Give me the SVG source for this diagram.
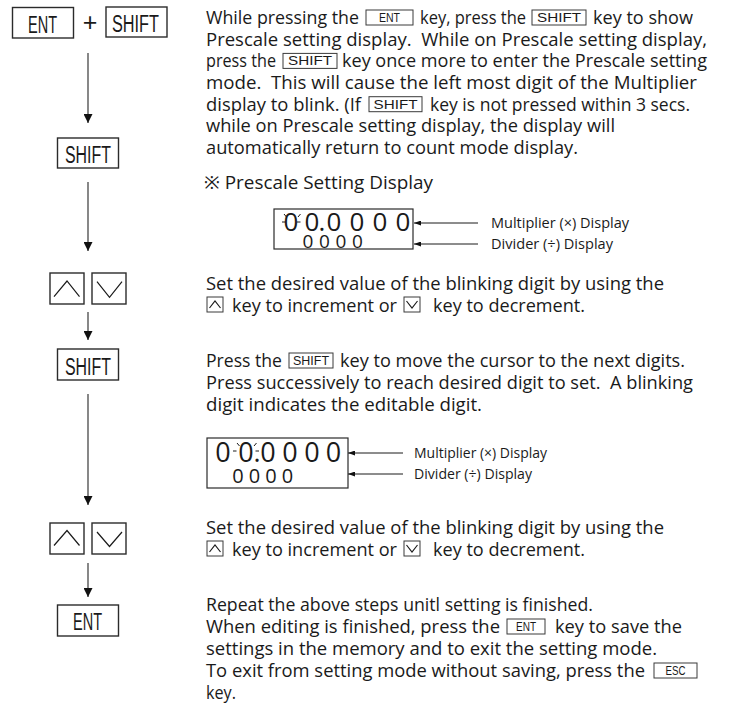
<svg xmlns="http://www.w3.org/2000/svg" width="746" height="724" viewBox="0 0 746 724">
<defs>
<style>
.t{font-family:"Open Sans","Noto Sans","Noto Sans CJK JP",sans-serif;font-size:18.5px;fill:#1a1a1a}
.lab{font-family:"Open Sans","Noto Sans",sans-serif;font-size:14px;fill:#1a1a1a}
.kb{fill:#fff;stroke:#2b2b2b;stroke-width:1.4}
.kt{font-family:"Liberation Sans",Arial,sans-serif;font-size:23.5px;fill:#1a1a1a}
.ib{fill:#fff;stroke:#3a3a3a;stroke-width:1}
.it{font-family:"Liberation Sans",Arial,sans-serif;font-size:12px;fill:#1a1a1a;text-anchor:middle}
.chev{fill:none;stroke:#1a1a1a;stroke-width:1.2}
.flow{stroke:#555;stroke-width:1.4;fill:none}
.dig{font-family:"Open Sans","Noto Sans",sans-serif;fill:#1a1a1a;text-anchor:middle}
.blink{stroke:#1a1a1a;stroke-width:1;fill:none}
.ptr{stroke:#1a1a1a;stroke-width:1;fill:none}
.disp{fill:#fff;stroke:#2b2b2b;stroke-width:1.2}
</style>
<marker id="ah" markerWidth="9" markerHeight="9" refX="9" refY="4.5" orient="auto" markerUnits="userSpaceOnUse"><path d="M0,0 L9,4.5 L0,9 Z" fill="#111"/></marker>
<marker id="ap" markerWidth="7" markerHeight="5" refX="7" refY="2.5" orient="auto" markerUnits="userSpaceOnUse"><path d="M0,0 L7,2.5 L0,5 Z" fill="#111"/></marker>
</defs>
<rect width="746" height="724" fill="#fff"/>

<!-- connectors -->
<g id="connectors">
<line class="flow" x1="88" y1="53" x2="88" y2="123" marker-end="url(#ah)"/>
<line class="flow" x1="88" y1="182" x2="88" y2="251" marker-end="url(#ah)"/>
<line class="flow" x1="88" y1="312" x2="88" y2="340" marker-end="url(#ah)"/>
<line class="flow" x1="88" y1="394" x2="88" y2="505" marker-end="url(#ah)"/>
<line class="flow" x1="88" y1="563" x2="88" y2="597" marker-end="url(#ah)"/>
<line class="ptr" x1="478" y1="223" x2="414" y2="223" marker-end="url(#ap)"/>
<line class="ptr" x1="478" y1="244" x2="414" y2="244" marker-end="url(#ap)"/>
<line class="ptr" x1="403" y1="453" x2="348" y2="453" marker-end="url(#ap)"/>
<line class="ptr" x1="403" y1="474" x2="348" y2="474" marker-end="url(#ap)"/>
</g>

<!-- left column keys -->
<g id="key-ent-1">
<rect class="kb" x="12.5" y="7.5" width="61" height="30.5"/>
<text class="kt" x="28" y="32.5" textLength="29" lengthAdjust="spacingAndGlyphs">ENT</text>
</g>
<text id="plus" x="90" y="31" font-family="Liberation Sans, Arial, sans-serif" font-size="25" fill="#1a1a1a" text-anchor="middle">+</text>
<g id="key-shift-1">
<rect class="kb" x="106" y="7" width="61" height="30"/>
<text class="kt" x="112" y="31.5" textLength="47" lengthAdjust="spacingAndGlyphs">SHIFT</text>
</g>
<g id="key-shift-2">
<rect class="kb" x="57.5" y="138" width="61" height="30"/>
<text class="kt" x="65" y="162.5" textLength="46" lengthAdjust="spacingAndGlyphs">SHIFT</text>
</g>
<g id="key-updown-1">
<rect class="kb" x="50" y="273" width="34" height="31"/>
<path class="chev" d="M54,296.7 L67,281 L79.5,296.7"/>
<rect class="kb" x="92" y="273" width="34" height="31"/>
<path class="chev" d="M97,281.7 L109.5,297.3 L122,281.7"/>
</g>
<g id="key-shift-3">
<rect class="kb" x="57.5" y="349" width="61" height="31"/>
<text class="kt" x="65" y="374.5" textLength="46" lengthAdjust="spacingAndGlyphs">SHIFT</text>
</g>
<g id="key-updown-2">
<rect class="kb" x="50" y="523" width="34" height="31"/>
<path class="chev" d="M54,545.5 L67,530.5 L79.5,545.5"/>
<rect class="kb" x="92" y="523" width="34" height="31"/>
<path class="chev" d="M97,532 L109.5,546.5 L122,532"/>
</g>
<g id="key-ent-2">
<rect class="kb" x="57.5" y="605" width="61" height="31"/>
<text class="kt" x="73" y="630" textLength="29" lengthAdjust="spacingAndGlyphs">ENT</text>
</g>

<!-- block 1 -->
<g id="step1-text">
<text class="t" x="206" y="24" textLength="153" lengthAdjust="spacingAndGlyphs">While pressing the</text>
<rect class="ib" x="366" y="10" width="47" height="15"/>
<text class="it" x="389.5" y="22" textLength="21" lengthAdjust="spacingAndGlyphs">ENT</text>
<text class="t" x="420" y="24" textLength="106" lengthAdjust="spacingAndGlyphs">key, press the</text>
<rect class="ib" x="532" y="10" width="54" height="15"/>
<text class="it" x="559" y="22" textLength="44" lengthAdjust="spacingAndGlyphs">SHIFT</text>
<text class="t" x="593" y="24" textLength="100" lengthAdjust="spacingAndGlyphs">key to show</text>
<text class="t" x="206" y="45.7" textLength="501" lengthAdjust="spacingAndGlyphs" xml:space="preserve">Prescale setting display.  While on Prescale setting display,</text>
<text class="t" x="206" y="67.4" textLength="70" lengthAdjust="spacingAndGlyphs">press the</text>
<rect class="ib" x="283" y="53.4" width="54" height="15"/>
<text class="it" x="310" y="65.4" textLength="44" lengthAdjust="spacingAndGlyphs">SHIFT</text>
<text class="t" x="342" y="67.4" textLength="365" lengthAdjust="spacingAndGlyphs">key once more to enter the Prescale setting</text>
<text class="t" x="206" y="89" textLength="491" lengthAdjust="spacingAndGlyphs" xml:space="preserve">mode.  This will cause the left most digit of the Multiplier</text>
<text class="t" x="206" y="110.7" textLength="155" lengthAdjust="spacingAndGlyphs">display to blink. (If</text>
<rect class="ib" x="369" y="96.7" width="53" height="15"/>
<text class="it" x="395.5" y="108.7" textLength="44" lengthAdjust="spacingAndGlyphs">SHIFT</text>
<text class="t" x="430" y="110.7" textLength="260" lengthAdjust="spacingAndGlyphs">key is not pressed within 3 secs.</text>
<text class="t" x="206" y="132.4" textLength="409" lengthAdjust="spacingAndGlyphs">while on Prescale setting display, the display will</text>
<text class="t" x="206" y="154" textLength="372" lengthAdjust="spacingAndGlyphs">automatically return to count mode display.</text>
<text class="t" x="204" y="189" textLength="229" lengthAdjust="spacingAndGlyphs">※ Prescale Setting Display</text>
</g>

<g id="display-1">
<rect class="disp" x="274" y="209" width="139" height="40"/>
<text class="dig" font-size="26" x="291 312 322 334 357 380 403" y="231">00.0000</text>
<text class="dig" font-size="19" x="308 324.5 341 357.5" y="248">0000</text>
<path class="blink" d="M284,214 L286.5,217 M282,222 L285.5,222 M297,222 L300.5,222 M298,217 L300.5,214"/>
</g>
<g id="labels-1">
<text class="lab" x="491" y="228" textLength="138" lengthAdjust="spacingAndGlyphs">Multiplier (×) Display</text>
<text class="lab" x="491" y="249" textLength="122" lengthAdjust="spacingAndGlyphs">Divider (÷) Display</text>
</g>

<g id="step2-text">
<text class="t" x="206" y="290" textLength="458" lengthAdjust="spacingAndGlyphs">Set the desired value of the blinking digit by using the</text>
<rect class="ib" x="207" y="297" width="16" height="15"/>
<path class="chev" d="M209.5,308 L215,301 L220.5,308" stroke-width="1"/>
<text class="t" x="232" y="312" textLength="165" lengthAdjust="spacingAndGlyphs">key to increment or</text>
<rect class="ib" x="404" y="297" width="16" height="15"/>
<path class="chev" d="M406.5,301 L412,308 L417.5,301" stroke-width="1"/>
<text class="t" x="433" y="312" textLength="152" lengthAdjust="spacingAndGlyphs">key to decrement.</text>
</g>

<g id="step3-text">
<text class="t" x="206" y="367" textLength="76" lengthAdjust="spacingAndGlyphs">Press the</text>
<rect class="ib" x="289" y="353" width="44" height="15"/>
<text class="it" x="311" y="365" textLength="36" lengthAdjust="spacingAndGlyphs">SHIFT</text>
<text class="t" x="340" y="367" textLength="345" lengthAdjust="spacingAndGlyphs">key to move the cursor to the next digits.</text>
<text class="t" x="206" y="389" textLength="487" lengthAdjust="spacingAndGlyphs" xml:space="preserve">Press successively to reach desired digit to set.  A blinking</text>
<text class="t" x="206" y="411" textLength="276" lengthAdjust="spacingAndGlyphs">digit indicates the editable digit.</text>
</g>

<g id="display-2">
<rect class="disp" x="207" y="438" width="141" height="50"/>
<text class="dig" font-size="27" x="223 246 257 268 290 312 333.5" y="462">00.0000</text>
<text class="dig" font-size="20" x="238 254.5 271 287.5" y="483">0000</text>
<path class="blink" d="M237,443 L239.5,446 M233,451 L236.5,451 M255.5,451 L259,451 M254,446 L256.5,443"/>
</g>
<g id="labels-2">
<text class="lab" x="414" y="458" textLength="133" lengthAdjust="spacingAndGlyphs">Multiplier (×) Display</text>
<text class="lab" x="414" y="479" textLength="118" lengthAdjust="spacingAndGlyphs">Divider (÷) Display</text>
</g>

<g id="step4-text">
<text class="t" x="206" y="534" textLength="458" lengthAdjust="spacingAndGlyphs">Set the desired value of the blinking digit by using the</text>
<rect class="ib" x="207" y="541" width="16" height="15"/>
<path class="chev" d="M209.5,552 L215,545 L220.5,552" stroke-width="1"/>
<text class="t" x="232" y="556" textLength="165" lengthAdjust="spacingAndGlyphs">key to increment or</text>
<rect class="ib" x="404" y="541" width="16" height="15"/>
<path class="chev" d="M406.5,545 L412,552 L417.5,545" stroke-width="1"/>
<text class="t" x="433" y="556" textLength="152" lengthAdjust="spacingAndGlyphs">key to decrement.</text>
</g>

<g id="step5-text">
<text class="t" x="206" y="611" textLength="387" lengthAdjust="spacingAndGlyphs">Repeat the above steps unitl setting is finished.</text>
<text class="t" x="206" y="633" textLength="294" lengthAdjust="spacingAndGlyphs">When editing is finished, press the</text>
<rect class="ib" x="507" y="619" width="38" height="15"/>
<text class="it" x="526" y="631" textLength="20" lengthAdjust="spacingAndGlyphs">ENT</text>
<text class="t" x="555" y="633" textLength="127" lengthAdjust="spacingAndGlyphs">key to save the</text>
<text class="t" x="206" y="655" textLength="451" lengthAdjust="spacingAndGlyphs">settings in the memory and to exit the setting mode.</text>
<text class="t" x="206" y="677" textLength="439" lengthAdjust="spacingAndGlyphs">To exit from setting mode without saving, press the</text>
<rect class="ib" x="654" y="663" width="43" height="15"/>
<text class="it" x="675.5" y="675" textLength="20" lengthAdjust="spacingAndGlyphs">ESC</text>
<text class="t" x="206" y="699" textLength="30" lengthAdjust="spacingAndGlyphs">key.</text>
</g>
</svg>
